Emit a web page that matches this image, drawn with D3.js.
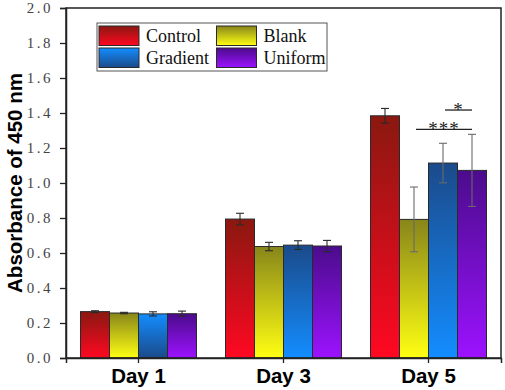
<!DOCTYPE html>
<html>
<head>
<meta charset="utf-8">
<script src="https://cdn.jsdelivr.net/npm/d3@7"></script>
<style>
  body { margin: 0; background: #fff; }
  svg { display: block; }
</style>
</head>
<body>
<div id="chart"></div>
<script>
// data
const days = ["Day 1", "Day 3", "Day 5"];
const groups = ["Control", "Blank", "Gradient", "Uniform"];
const control  = [0.265, 0.794, 1.384];
const blank    = [0.257, 0.637, 0.792];
const gradient = [0.252, 0.645, 1.114];
const uniform  = [0.253, 0.640, 1.072];
const controlErr  = [0.005, 0.033, 0.042];
const blankErr    = [0.004, 0.024, 0.185];
const gradientErr = [0.012, 0.025, 0.113];
const uniformErr  = [0.015, 0.032, 0.206];
const yTicks = [0, 0.2, 0.4, 0.6, 0.8, 1.0, 1.2, 1.4, 1.6, 1.8, 2.0];
// significance brackets: [from group, to group, day, level, label]
const sig = [
  ["Blank", "Uniform", "Day 5", 1.306, "***"],
  ["Gradient", "Uniform", "Day 5", 1.417, "*"]
];

const SERIF = "'Liberation Serif', 'Times New Roman', serif";
const SANS = "'Liberation Sans', Arial, sans-serif";

const W = 505, H = 390;
const margin = {top: 8, right: 4, bottom: 32, left: 66};
const width = W - margin.left - margin.right,
      height = H - margin.top - margin.bottom;

const series = [control, blank, gradient, uniform];
const errs = [controlErr, blankErr, gradientErr, uniformErr];
const data = [];
days.forEach((d, i) => groups.forEach((g, j) => {
  data.push({day: d, group: g, value: series[j][i], err: errs[j][i], di: i});
}));

// dark (top) / bright colours for each group
const dark   = {Control: "#8a1810", Blank: "#88861a", Gradient: "#1b4a8a", Uniform: "#4b0c8c"};
const bright = {Control: "#ff0822", Blank: "#ffff12", Gradient: "#138dff", Uniform: "#9c12ff"};

const svg = d3.select("#chart").append("svg")
  .attr("width", W).attr("height", H);

const defs = svg.append("defs");
groups.forEach(g => {
  [["down", dark[g], bright[g]], ["up", bright[g], dark[g]]].forEach(([k, c0, c1]) => {
    const lg = defs.append("linearGradient")
      .attr("id", `grad-${g}-${k}`)
      .attr("x1", 0).attr("y1", 0).attr("x2", 0).attr("y2", 1);
    lg.append("stop").attr("offset", "0%").attr("stop-color", c0);
    lg.append("stop").attr("offset", "100%").attr("stop-color", c1);
  });
});
// the Gradient bar of day 1 and its legend swatch are lighter on top
const fillFor = (g, flip) => `url(#grad-${g}-${flip ? "up" : "down"})`;

const chart = svg.append("g")
  .attr("transform", `translate(${margin.left},${margin.top})`);

const x0 = d3.scaleBand().domain(days).range([0, width]).paddingInner(0.2).paddingOuter(0.1);
const x1 = d3.scaleBand().domain(groups).range([0, x0.bandwidth()]);
const y = d3.scaleLinear().domain([0, 2]).range([height, 0]);

// bars
chart.append("g").selectAll("rect")
  .data(data).enter().append("rect")
    .attr("x", d => x0(d.day) + x1(d.group))
    .attr("y", d => y(d.value))
    .attr("width", x1.bandwidth())
    .attr("height", d => height - y(d.value))
    .attr("fill", d => fillFor(d.group, d.group === "Gradient" && d.di === 0))
    .attr("stroke", "#2a2a2a")
    .attr("stroke-width", 1);

// error bars
const eb = chart.append("g").selectAll("g")
  .data(data).enter().append("g")
    .attr("stroke", d => (d.di === 2 && d.group !== "Control") ? "#6a6a6a" : "#2a2a2a")
    .attr("stroke-width", 1.1);
const cx = d => x0(d.day) + x1(d.group) + x1.bandwidth() / 2;
eb.append("line")
  .attr("x1", cx).attr("x2", cx)
  .attr("y1", d => y(d.value + d.err)).attr("y2", d => y(d.value - d.err));
eb.append("line")
  .attr("x1", d => cx(d) - 4).attr("x2", d => cx(d) + 4)
  .attr("y1", d => y(d.value + d.err)).attr("y2", d => y(d.value + d.err));
eb.append("line")
  .attr("x1", d => cx(d) - 4).attr("x2", d => cx(d) + 4)
  .attr("y1", d => y(d.value - d.err)).attr("y2", d => y(d.value - d.err));

// significance marks
sig.forEach(([a, b, day, lvl, label]) => {
  const xa = x0(day) + x1(a) + x1.bandwidth() / 2 + 2,
        xb = x0(day) + x1(b) + x1.bandwidth() / 2;
  chart.append("line")
    .attr("x1", xa).attr("x2", xb)
    .attr("y1", y(lvl)).attr("y2", y(lvl))
    .attr("stroke", "#222").attr("stroke-width", 1.3);
  chart.append("text")
    .attr("x", (xa + xb) / 2).attr("y", y(lvl) + 6)
    .attr("text-anchor", "middle")
    .style("font-family", SERIF)
    .style("font-size", "19px")
    .style("letter-spacing", "1px")
    .attr("fill", "#222")
    .text(label);
});

// frame
chart.append("rect")
  .attr("x", 0).attr("y", 0)
  .attr("width", width).attr("height", height)
  .attr("fill", "none").attr("stroke", "#222").attr("stroke-width", 1.5);

// Y axis
const yAxis = chart.append("g")
  .call(d3.axisLeft(y).tickValues(yTicks).tickFormat(d3.format(".1f")).tickSize(6).tickPadding(7));
yAxis.select(".domain").attr("stroke", "#222").attr("stroke-width", 1.5);
yAxis.selectAll(".tick line").attr("stroke", "#222").attr("stroke-width", 1.3);
yAxis.selectAll("text")
  .style("font-family", SERIF)
  .style("font-size", "15px")
  .style("letter-spacing", "2.5px")
  .attr("fill", "#444");

// X axis
const xAxis = chart.append("g")
  .attr("transform", `translate(0,${height})`)
  .call(d3.axisBottom(x0).tickSize(5));
xAxis.select(".domain").attr("stroke", "#222").attr("stroke-width", 1.5);
xAxis.selectAll(".tick line").attr("stroke", "#222").attr("stroke-width", 1.3);
xAxis.selectAll("text")
  .style("font-family", SANS)
  .style("font-size", "20.5px")
  .style("font-weight", "bold")
  .attr("fill", "#000")
  .attr("y", 25)
  .attr("dy", 0);

// Y title
svg.append("text")
  .attr("transform", `translate(22,${margin.top + height / 2}) rotate(-90)`)
  .attr("text-anchor", "middle")
  .style("font-family", SANS)
  .style("font-size", "20.5px")
  .style("font-weight", "bold")
  .text("Absorbance of 450 nm");

// legend
const legend = svg.append("g").attr("transform", "translate(97,23)");
legend.append("rect")
  .attr("width", 230).attr("height", 48)
  .attr("fill", "#fff").attr("stroke", "#555").attr("stroke-width", 1);
const order = ["Control", "Blank", "Gradient", "Uniform"];
const li = legend.selectAll("g.item")
  .data(order).enter().append("g")
    .attr("class", "item")
    .attr("transform", (d, i) => `translate(${2 + (i % 2) * 117.5},${3 + Math.floor(i / 2) * 22})`);
li.append("rect")
  .attr("width", 40).attr("height", 19.5)
  .attr("fill", d => fillFor(d, d === "Gradient"))
  .attr("stroke", "#2a2a2a").attr("stroke-width", 1);
li.append("text")
  .attr("x", 47).attr("y", 16)
  .style("font-family", SERIF)
  .style("font-size", "18px")
  .attr("fill", "#111")
  .text(d => d);
</script>
</body>
</html>
